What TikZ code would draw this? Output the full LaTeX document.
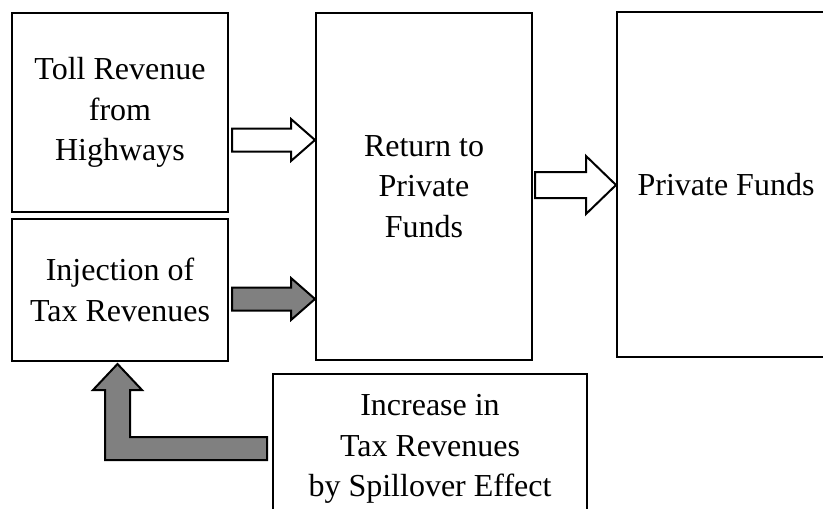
\documentclass[tikz,border=0pt]{standalone}
\usepackage{fontspec}
\setmainfont{Liberation Serif}
\usetikzlibrary{positioning, calc}

\begin{document}
\begin{tikzpicture}[
    x=0.5pt, y=-0.5pt,
    box/.style={
        rectangle, draw=black, line width=1pt,
        align=center, inner sep=0pt,
        font=\fontsize{16}{20.25}\selectfont},
    hollowarrow/.style={draw=black, line width=1pt, fill=white, line join=miter},
    solidarrow/.style={draw=black, line width=1pt, fill=gray, line join=miter}]

\clip (0,0) rectangle (823,508);

\node[box, minimum width=108pt, minimum height=99.5pt]  (toll) at (120,112.5) {Toll Revenue\\from\\Highways};
\node[box, minimum width=108pt, minimum height=71pt]    (inj)  at (120,290)   {Injection of\\Tax Revenues};
\node[box, minimum width=108pt, minimum height=173.5pt] (ret)  at (424,186.5) {Return to\\Private\\Funds};
\node[box, minimum width=109pt, minimum height=172.5pt] (pf)   at (726,184.5) {Private Funds};
\node[box, minimum width=157pt, minimum height=75pt]    (inc)  at (430,449)   {Increase in\\Tax Revenues\\by Spillover Effect};

% block arrows into the return box
\draw[hollowarrow, shift={(ret.west |- 0,140)}] (0,0) -- (-24,-21) -- (-24,-11.5) -- (-83,-11.5)
    -- (-83,11.5) -- (-24,11.5) -- (-24,21) -- cycle;
\draw[solidarrow, shift={(ret.west |- 0,299)}] (0,0) -- (-24,-21) -- (-24,-11.5) -- (-83,-11.5)
    -- (-83,11.5) -- (-24,11.5) -- (-24,21) -- cycle;

% return -> private funds
\draw[hollowarrow, shift={(pf.west |- 0,185)}] (0,0) -- (-30,-29) -- (-30,-13) -- (-81,-13)
    -- (-81,13) -- (-30,13) -- (-30,29) -- cycle;

% spillover back to injection
\draw[solidarrow, shift={($(inj.south)+(-2.5,2)$)}] (0,0) -- (24.5,26) -- (12.5,26) -- (12.5,73)
    -- (149.5,73) -- (149.5,96) -- (-12.5,96) -- (-12.5,26) -- (-24.5,26) -- cycle;

\end{tikzpicture}
\end{document}
